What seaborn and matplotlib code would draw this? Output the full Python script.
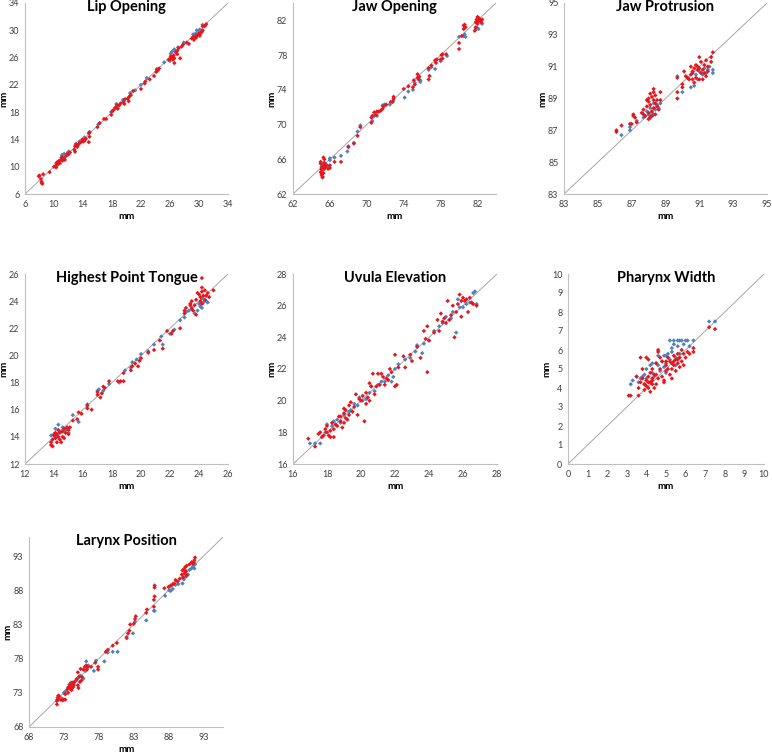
import matplotlib
matplotlib.use("Agg")
import matplotlib.pyplot as plt
import seaborn as sns
import pandas as pd
import numpy as np

# ---------------- data (mm) ----------------
titles = ["Lip Opening", "Jaw Opening", "Jaw Protrusion", "Highest Point Tongue",
          "Uvula Elevation", "Pharynx Width", "Larynx Position"]

lip_blue = [(10.3,10.5),(10.8,10.9),(11.1,11.7),(11.4,11.9),(11.0,11.3),(12.0,12.2),
            (13.0,13.3),(13.5,13.7),(14.2,14.3),(14.9,15.1),(16.1,16.2),(18.6,19.2),
            (19.5,19.8),(20.5,20.8),(21.2,21.2),(17.9,18.0),(22.0,22.0),(22.8,23.0),
            (24.2,24.2),(25.2,25.3),(26.1,26.6),(26.3,26.9),(26.6,27.2),(27.1,27.5),
            (27.9,28.2),(26.0,25.5),(29.2,29.4),(29.5,29.5),(29.7,30.0),(30.1,30.1),
            (30.5,30.8),(29.8,29.3)]
lip_red = [(8.0,8.7),(8.3,7.8),(8.3,7.6),(8.2,8.2),(8.5,8.9),(7.9,8.6),(8.4,7.5),(9.4,9.2),
           (10.0,10.0),(10.2,10.1),(10.3,9.9),(10.5,10.3),(10.6,10.8),(10.8,10.5),(11.0,11.0),
           (11.2,10.9),(11.4,11.3),(11.5,11.0),(11.7,11.6),(12.0,11.8),(12.2,12.1),(10.4,10.6),
           (11.1,11.4),(11.8,11.9),(12.8,12.5),(12.9,13.0),(13.1,13.3),(13.3,13.2),(13.5,13.4),
           (13.7,13.6),(13.9,14.0),(14.0,13.7),(14.2,13.8),(14.4,14.1),(14.8,14.9),(14.9,14.4),
           (14.8,13.6),(14.9,15.0),(13.2,12.9),(12.9,12.2),(16.0,15.8),(16.3,16.4),(16.9,17.0),
           (17.2,17.0),(17.9,17.6),(18.0,18.1),(18.2,18.3),(18.4,18.6),(18.6,18.7),(18.8,18.5),
           (19.0,19.0),(19.2,19.3),(19.6,19.5),(19.8,19.9),(20.2,20.0),(20.4,20.3),(20.6,20.5),
           (20.9,21.1),(19.7,19.2),(20.3,19.6),(18.7,19.0),(22.0,21.4),(22.5,22.2),(22.6,22.5),
           (23.2,22.8),(23.8,23.3),(24.1,23.9),(24.3,24.1),(24.5,24.4),(24.2,24.3),(25.8,25.7),
           (26.0,25.8),(26.1,26.2),(26.3,26.0),(26.5,26.3),(26.6,25.9),(26.4,25.7),(27.0,26.5),
           (27.0,27.0),(27.2,27.4),(27.6,27.6),(27.8,27.9),(26.8,26.8),(26.6,25.2),(27.4,25.9),
           (28.3,28.2),(28.6,28.0),(29.0,28.8),(29.2,29.0),(29.5,29.1),(29.8,29.3),(30.0,29.6),
           (30.2,29.5),(30.4,29.8),(30.5,30.0),(30.5,30.6),(30.8,30.6),(31.0,30.9),(29.6,28.9),
           (30.1,29.2),(29.3,28.6)]

jaw_open_blue = [(65.1,65.2),(65.3,65.5),(65.6,65.4),(65.8,65.2),(66.0,65.9),(66.0,66.1),
                 (66.5,66.2),(65.2,64.8),(67.2,66.4),(67.9,66.9),(68.0,67.5),(68.6,67.9),
                 (69.0,69.2),(69.3,69.9),(70.6,70.4),(70.8,71.0),(71.1,71.0),(71.7,72.2),
                 (71.9,72.3),(72.5,72.3),(72.9,72.8),(74.1,73.1),(74.5,73.8),(75.0,74.0),
                 (75.2,74.8),(75.8,74.9),(75.8,75.1),(76.7,76.3),(77.4,76.4),(77.0,76.6),
                 (78.0,77.3),(78.7,77.9),(80.0,80.1),(80.5,80.2),(80.6,80.4),(80.7,80.1),
                 (81.8,81.0),(82.0,81.1),(82.1,81.0),(82.5,81.6),(82.4,81.7)]
jaw_open_red = [(65.0,64.5),(65.1,64.8),(65.2,65.0),(65.3,65.3),(65.4,65.6),(65.3,66.2),
                (65.1,64.2),(65.2,64.0),(65.0,65.5),(65.4,64.9),(65.5,65.1),(65.3,64.4),
                (65.6,65.3),(65.1,65.0),(65.2,63.9),(65.0,65.7),(65.4,66.0),(66.0,65.0),
                (66.0,65.3),(65.8,64.9),(66.5,65.7),(67.2,65.7),(68.0,67.4),(68.6,67.8),
                (69.0,68.7),(69.3,69.7),(70.5,70.2),(70.5,70.8),(70.6,71.0),(70.8,71.4),
                (71.1,71.5),(71.3,71.5),(71.5,71.6),(71.7,71.8),(71.8,72.1),(72.1,72.3),
                (72.6,72.6),(72.9,73.0),(72.9,73.2),(72.8,72.6),(71.0,71.1),(74.0,74.1),
                (74.5,74.4),(75.0,74.3),(75.1,75.1),(75.2,74.6),(75.5,75.4),(75.5,75.8),
                (75.7,75.5),(75.6,75.2),(76.7,76.5),(76.8,75.6),(76.7,75.2),(77.0,76.8),
                (77.4,77.4),(77.5,77.1),(77.6,77.5),(78.0,77.5),(78.1,78.0),(78.2,77.6),
                (78.6,78.1),(78.2,78.1),(80.0,78.7),(80.0,79.4),(80.3,80.2),(80.5,81.0),
                (80.5,81.4),(80.6,81.5),(80.7,81.2),(81.8,81.2),(81.8,81.8),(81.9,82.1),
                (82.0,81.6),(82.1,81.9),(82.2,82.2),(82.3,82.0),(82.4,81.8),(81.7,80.8),
                (82.0,82.4),(82.5,82.1)]

jaw_prot_blue = [(86.4,86.7),(86.9,87.0),(86.9,87.2),(87.3,87.6),(87.7,87.8),(88.0,88.0),
                 (88.1,88.4),(88.2,88.1),(88.3,88.7),(88.4,88.3),(88.5,88.6),(88.6,88.4),
                 (88.7,88.7),(88.3,88.0),(88.1,87.9),(87.9,88.2),(89.7,90.4),(90.0,89.4),
                 (90.3,90.3),(90.5,89.7),(90.7,89.8),(90.9,90.2),(91.0,90.7),(91.2,90.5),
                 (91.3,90.9),(91.4,90.6),(91.5,90.8),(91.8,90.6),(91.8,90.8),(90.8,90.5),
                 (91.6,91.0)]
jaw_prot_red = [(86.1,86.9),(86.1,87.0),(86.4,87.3),(86.9,87.4),(87.0,87.4),(87.1,87.9),
                (87.1,88.0),(87.2,87.8),(87.3,87.5),(87.7,88.0),(87.7,88.3),(87.8,87.9),
                (87.9,88.5),(88.0,88.8),(88.0,89.0),(88.0,88.1),(88.1,89.3),(88.1,87.8),
                (88.2,88.2),(88.2,89.1),(88.3,88.9),(88.3,89.4),(88.3,88.4),(88.4,88.7),
                (88.4,88.0),(88.5,88.9),(88.5,88.5),(88.6,88.3),(88.7,89.4),(88.7,88.9),
                (88.0,87.7),(87.9,88.9),(88.1,88.6),(88.3,89.6),(88.2,87.9),(87.6,88.1),
                (88.4,89.2),(89.7,89.0),(89.7,89.4),(89.7,90.3),(90.0,89.7),(90.1,90.7),
                (90.2,90.4),(90.0,89.9),(90.4,90.2),(90.5,90.5),(90.5,91.0),(90.6,90.7),
                (90.6,90.2),(90.7,90.0),(90.7,90.9),(90.8,90.3),(90.9,90.8),(90.9,91.0),
                (91.0,91.6),(91.0,90.9),(91.0,90.2),(91.1,90.6),(91.1,91.3),(91.2,90.8),
                (91.2,90.2),(91.3,91.1),(91.3,90.6),(91.4,91.4),(91.4,90.4),(91.5,91.0),
                (91.5,90.7),(91.7,91.3),(91.7,91.6),(91.8,91.9),(90.6,90.6),(90.8,91.1),
                (90.3,90.3)]

tongue_blue = [(13.8,14.1),(14.0,14.2),(14.1,14.6),(14.3,14.9),(14.5,14.4),(14.6,14.7),
               (14.9,14.6),(15.0,14.3),(14.2,14.0),(14.8,14.5),(15.3,15.6),(15.7,15.1),
               (16.3,16.4),(17.0,17.4),(17.1,17.5),(17.4,17.4),(17.8,17.9),(18.9,18.9),
               (19.3,19.1),(19.4,19.5),(19.7,19.7),(20.0,20.1),(18.5,18.0),(20.5,20.3),
               (20.9,20.8),(21.4,21.4),(21.5,20.8),(22.0,21.6),(22.3,21.9),(22.7,22.6),
               (23.0,22.8),(23.1,23.2),(23.3,23.3),(23.5,23.4),(23.7,23.1),(23.9,23.3),
               (24.0,23.8),(24.1,23.6),(24.2,23.5),(24.3,23.9),(24.5,24.0),(24.6,23.9),
               (24.2,24.2)]
tongue_red = [(13.8,13.4),(13.8,13.6),(13.9,13.8),(14.0,14.1),(14.1,13.9),(14.2,14.2),
              (14.2,13.6),(14.3,14.0),(14.4,14.3),(14.5,13.6),(14.6,14.4),(14.6,14.0),
              (14.7,14.6),(14.8,14.3),(14.9,14.7),(15.0,14.5),(15.1,14.7),(14.4,13.8),
              (13.9,13.3),(14.7,13.9),(14.1,14.3),(14.3,14.5),(15.0,14.2),(15.3,15.2),
              (15.6,15.3),(15.7,15.8),(15.9,15.7),(16.3,16.1),(16.3,16.3),(16.6,16.0),
              (17.0,17.1),(17.0,17.3),(17.2,16.9),(17.3,17.2),(17.4,17.7),(17.5,17.6),
              (17.8,18.1),(18.4,18.1),(18.6,18.1),(18.8,18.1),(18.8,18.7),(19.3,18.9),
              (19.4,19.2),(19.6,19.4),(19.8,19.2),(19.9,19.6),(20.0,19.8),(20.5,20.2),
              (20.9,20.4),(21.3,21.1),(21.5,20.5),(21.8,21.8),(22.1,21.6),(22.2,21.8),
              (22.7,22.0),(23.0,23.1),(23.0,23.3),(23.1,23.5),(23.4,23.8),(23.5,24.0),
              (23.5,23.5),(23.6,23.3),(23.7,23.7),(23.8,24.1),(23.8,23.0),(24.0,24.5),
              (24.1,24.3),(24.2,25.0),(24.2,24.7),(24.2,23.8),(24.3,24.4),(24.4,24.1),
              (24.4,24.8),(24.5,24.4),(24.6,24.6),(24.7,24.3),(25.0,24.8),(24.2,25.7),
              (23.9,24.6),(24.1,24.0),(23.4,23.7)]

uvula_blue = [(17.0,17.3),(17.3,17.3),(17.6,17.3),(17.9,18.0),(18.0,18.5),(18.3,18.4),
              (18.4,18.7),(18.6,18.8),(18.8,18.6),(19.0,19.1),(19.3,19.3),(19.4,19.4),
              (19.6,19.8),(19.8,19.7),(19.9,20.2),(20.1,20.0),(20.3,20.1),(20.5,20.5),
              (20.6,20.9),(20.8,20.6),(21.0,21.0),(21.2,21.2),(21.4,21.2),(21.6,21.6),
              (21.8,21.2),(21.9,21.5),(22.0,22.0),(22.2,22.3),(22.6,22.6),(22.9,22.7),
              (23.2,23.1),(23.3,23.5),(23.6,23.0),(23.7,23.6),(24.0,23.8),(24.3,24.4),
              (24.6,24.7),(24.8,24.9),(25.0,25.3),(25.3,25.2),(25.4,25.6),(25.6,24.3),
              (25.8,25.9),(26.0,25.9),(26.2,26.1),(26.4,26.2),(26.6,26.8),(26.7,26.9),
              (26.8,26.1),(25.7,26.4)]
uvula_red = [(16.9,17.6),(17.3,17.1),(17.5,17.9),(17.6,18.0),(17.8,17.8),(17.9,18.2),
             (18.0,18.0),(18.1,17.8),(18.2,18.1),(18.2,17.7),(18.3,18.6),(18.4,17.7),
             (18.4,18.2),(18.5,18.5),(18.6,18.4),(18.7,19.0),(18.8,18.7),(18.8,19.0),
             (18.9,18.3),(19.0,19.2),(19.0,19.5),(19.1,18.9),(19.1,19.4),(19.2,18.8),
             (19.3,19.1),(19.3,19.7),(19.4,19.9),(19.5,19.3),(19.6,19.6),(19.7,20.4),
             (19.8,19.1),(19.9,20.1),(20.0,20.0),(20.1,20.3),(20.2,18.7),(20.3,19.8),
             (20.3,20.5),(20.4,20.2),(20.5,21.1),(20.6,20.9),(20.7,21.7),(20.8,20.4),
             (20.9,20.9),(21.0,21.7),(21.1,21.0),(21.2,21.7),(21.3,21.5),(21.5,21.4),
             (21.6,21.3),(21.7,22.0),(21.8,21.8),(22.0,20.9),(22.0,22.9),(22.2,22.1),
             (22.5,22.8),(22.6,22.1),(22.9,22.9),(23.0,22.5),(23.3,23.4),(23.5,22.7),
             (23.7,24.4),(23.8,23.9),(23.9,24.7),(23.9,21.8),(24.0,23.8),(24.3,24.3),
             (24.5,25.1),(24.6,24.4),(24.7,25.5),(24.8,25.0),(24.9,25.2),(25.0,24.9),
             (25.1,26.3),(25.2,25.1),(25.3,25.4),(25.4,26.0),(25.5,24.0),(25.6,25.6),
             (25.7,26.1),(25.8,26.7),(25.9,26.3),(26.0,26.5),(26.1,26.3),(26.2,26.4),
             (26.3,25.6),(26.4,26.5),(26.5,26.2),(26.6,26.1),(26.8,26.0),(25.9,25.3),
             (19.0,18.6),(18.0,18.4),(17.7,17.7),(20.5,20.0),(21.4,21.0),(22.1,21.0)]

pharynx_blue = [(3.2,4.2),(3.3,4.4),(3.5,4.6),(3.6,4.3),(3.7,4.5),(3.8,4.6),(3.9,4.7),
                (4.0,4.5),(4.0,5.0),(4.2,5.2),(4.3,4.8),(4.3,5.3),(4.5,5.3),(4.6,5.2),
                (4.8,5.4),(4.9,5.1),(5.0,5.7),(5.0,5.3),(5.1,5.8),(5.2,5.5),(5.3,6.1),
                (5.3,5.9),(5.4,6.3),(5.5,5.6),(5.6,6.2),(5.6,6.5),(5.8,6.5),(5.9,6.3),
                (6.0,6.5),(6.1,6.5),(6.2,6.2),(6.4,6.5),(5.5,5.2),(5.7,5.8),(4.7,4.9),
                (4.4,4.6),(7.2,7.5),(7.5,7.5),(5.2,6.5),(5.0,4.8),(3.9,4.2),(5.4,6.5),
                (5.7,6.5),(4.9,5.7),(4.6,5.7)]
pharynx_red = [(3.1,3.6),(3.2,3.6),(3.6,3.6),(3.6,4.0),(3.7,4.3),(3.8,5.0),(3.8,4.5),
               (3.9,4.2),(3.9,3.9),(4.0,4.4),(4.0,4.1),(4.0,5.6),(4.1,4.0),(4.1,4.6),
               (4.2,4.3),(4.2,3.8),(4.2,4.8),(4.3,4.5),(4.3,4.2),(4.4,4.7),(4.4,4.0),
               (4.5,5.3),(4.6,4.5),(4.6,5.9),(4.7,5.0),(4.8,5.4),(4.8,4.6),(4.9,4.3),
               (5.0,5.2),(5.0,4.9),(5.1,5.6),(5.1,5.0),(5.2,5.4),(5.2,4.7),(5.3,5.3),
               (5.3,5.0),(5.4,5.7),(5.4,5.2),(5.5,5.5),(5.5,4.9),(5.6,5.3),(5.6,5.8),
               (5.7,5.1),(5.7,5.6),(5.8,5.4),(5.8,6.0),(5.9,5.2),(5.9,5.8),(6.0,5.6),
               (6.1,5.9),(6.2,5.8),(6.4,5.9),(6.4,6.1),(3.7,5.6),(4.1,5.5),(4.3,5.0),
               (4.5,4.2),(4.7,5.6),(5.0,5.4),(5.3,4.5),(7.2,7.2),(7.5,7.1),(3.5,4.6),
               (4.6,6.0),(4.9,4.4),(4.1,4.3),(4.3,4.4),(4.5,4.7),(5.4,5.4),(5.6,5.5)]

larynx_blue = [(72.1,72.0),(72.7,72.2),(73.0,73.0),(73.2,73.2),(73.6,73.8),(73.9,74.2),
               (74.0,74.5),(74.4,74.3),(74.8,74.8),(75.0,75.1),(75.4,75.5),(75.8,75.1),
               (76.1,76.2),(76.2,77.6),(76.5,77.0),(77.3,76.2),(77.6,77.7),(78.8,77.6),
               (79.3,78.9),(80.0,79.0),(80.7,79.0),(82.0,81.2),(82.9,81.7),(83.2,83.4),
               (84.8,83.6),(85.9,85.0),(86.0,85.0),(87.5,87.2),(88.1,88.0),(88.3,87.9),
               (88.6,88.2),(89.0,88.8),(89.4,88.9),(90.0,89.0),(90.2,89.6),(90.5,90.0),
               (90.8,90.3),(91.0,91.0),(91.3,91.2),(91.5,91.5),(91.8,91.8),(91.7,91.2),
               (90.1,89.8)]
larynx_red = [(72.0,71.3),(72.0,71.8),(72.1,72.3),(72.2,72.6),(72.1,72.0),(72.3,72.5),
              (72.5,72.0),(72.8,71.9),(73.0,72.0),(73.2,72.8),(73.2,72.0),(73.5,73.5),
              (73.6,73.0),(73.7,73.8),(73.8,74.2),(73.9,73.6),(74.0,74.0),(74.1,73.4),
              (74.2,74.5),(74.3,73.8),(74.4,74.1),(74.5,74.6),(74.8,75.0),(75.0,76.0),
              (75.0,74.1),(75.1,73.7),(75.2,75.4),(75.3,74.6),(75.4,76.5),(75.5,74.8),
              (75.6,75.3),(75.8,76.4),(76.0,76.8),(76.2,77.0),(76.4,76.8),(76.3,76.4),
              (76.9,76.8),(77.5,77.4),(77.9,76.4),(77.9,76.8),(79.0,79.0),(79.3,79.3),
              (80.0,79.9),(80.6,80.3),(82.0,81.0),(82.2,81.7),(82.4,82.1),(82.5,83.0),
              (83.0,83.1),(83.2,83.8),(83.3,84.2),(84.8,84.7),(84.9,85.2),(85.9,85.6),
              (85.9,86.6),(86.0,87.1),(86.0,88.4),(86.0,88.7),(87.4,88.3),(88.0,88.5),
              (88.3,88.7),(88.6,88.9),(88.8,89.0),(89.0,89.5),(89.3,89.3),(89.6,89.7),
              (89.9,90.3),(90.0,90.9),(90.1,89.9),(90.2,91.1),(90.3,90.5),(90.4,91.4),
              (90.5,90.8),(90.6,90.2),(90.6,91.6),(91.0,91.8),(91.3,92.1),(91.5,91.9),
              (91.7,92.4),(91.8,92.8),(91.6,92.1)]

axis_ranges = [(6, 34), (62, 84), (83, 95), (12, 26), (16, 28), (0, 10), (68, 95.8)]
tick_values = [list(range(6, 35, 4)), list(range(62, 83, 4)), list(range(83, 96, 2)),
               list(range(12, 27, 2)), list(range(16, 29, 2)), list(range(0, 11, 1)),
               list(range(68, 94, 5))]
series = [(lip_blue, lip_red), (jaw_open_blue, jaw_open_red), (jaw_prot_blue, jaw_prot_red),
          (tongue_blue, tongue_red), (uvula_blue, uvula_red), (pharynx_blue, pharynx_red),
          (larynx_blue, larynx_red)]

# ---------------- styling ----------------
sns.set_style("white")
plt.rcParams["font.family"] = ["Lato", "DejaVu Sans"]

W, H = 772, 754
fig = plt.figure(figsize=(W / 100, H / 100), dpi=100)

# axes boxes in pixels: left, right, top, bottom
boxes = [(25, 228, 3, 194), (293, 496, 3, 194), (564, 767, 3, 194),
         (25, 228, 274, 464), (293, 497, 274, 464), (568, 764, 274, 464),
         (29, 223, 537, 727)]

BLUE = "#4F81BD"
RED = "#E8161B"
SPINE = "#BFBFBF"
TXT = "#404040"

for title, (lo, hi), ticks, (blue, red), (l, r, t, b) in zip(
        titles, axis_ranges, tick_values, series, boxes):
    ax = fig.add_axes([l / W, 1 - b / H, (r - l) / W, (b - t) / H])
    df = pd.concat([
        pd.DataFrame(blue, columns=["x", "y"]).assign(s="blue"),
        pd.DataFrame(red, columns=["x", "y"]).assign(s="red"),
    ], ignore_index=True)
    ax.plot([lo, hi], [lo, hi], color="#A6A6A6", lw=0.7, zorder=1)
    sns.scatterplot(data=df, x="x", y="y", hue="s", palette={"blue": BLUE, "red": RED},
                    s=5, marker="D", linewidth=0, legend=False, ax=ax, zorder=2)
    ax.set_xlim(lo, hi)
    ax.set_ylim(lo, hi)
    ax.set_xticks(ticks)
    ax.set_yticks(ticks)
    ax.tick_params(length=0, labelsize=6.5, colors=TXT, pad=4)
    for sp in ["top", "right"]:
        ax.spines[sp].set_visible(False)
    for sp in ["left", "bottom"]:
        ax.spines[sp].set_color(SPINE)
        ax.spines[sp].set_linewidth(0.8)
    ax.set_xlabel("mm", fontsize=7, fontweight="bold", color="black")
    ax.set_ylabel("mm", fontsize=7, fontweight="bold", color="black")
    hpx, wpx = b - t, r - l
    ax.xaxis.set_label_coords(0.5, -18 / hpx)
    ax.yaxis.set_label_coords(-17 / wpx, 0.5)
    ax.text(0.5, 1 - 4 / hpx, title, transform=ax.transAxes, ha="center", va="center",
            fontsize=10.5, fontweight="bold", color="black", zorder=5)

fig.savefig("out.png", dpi=100)
